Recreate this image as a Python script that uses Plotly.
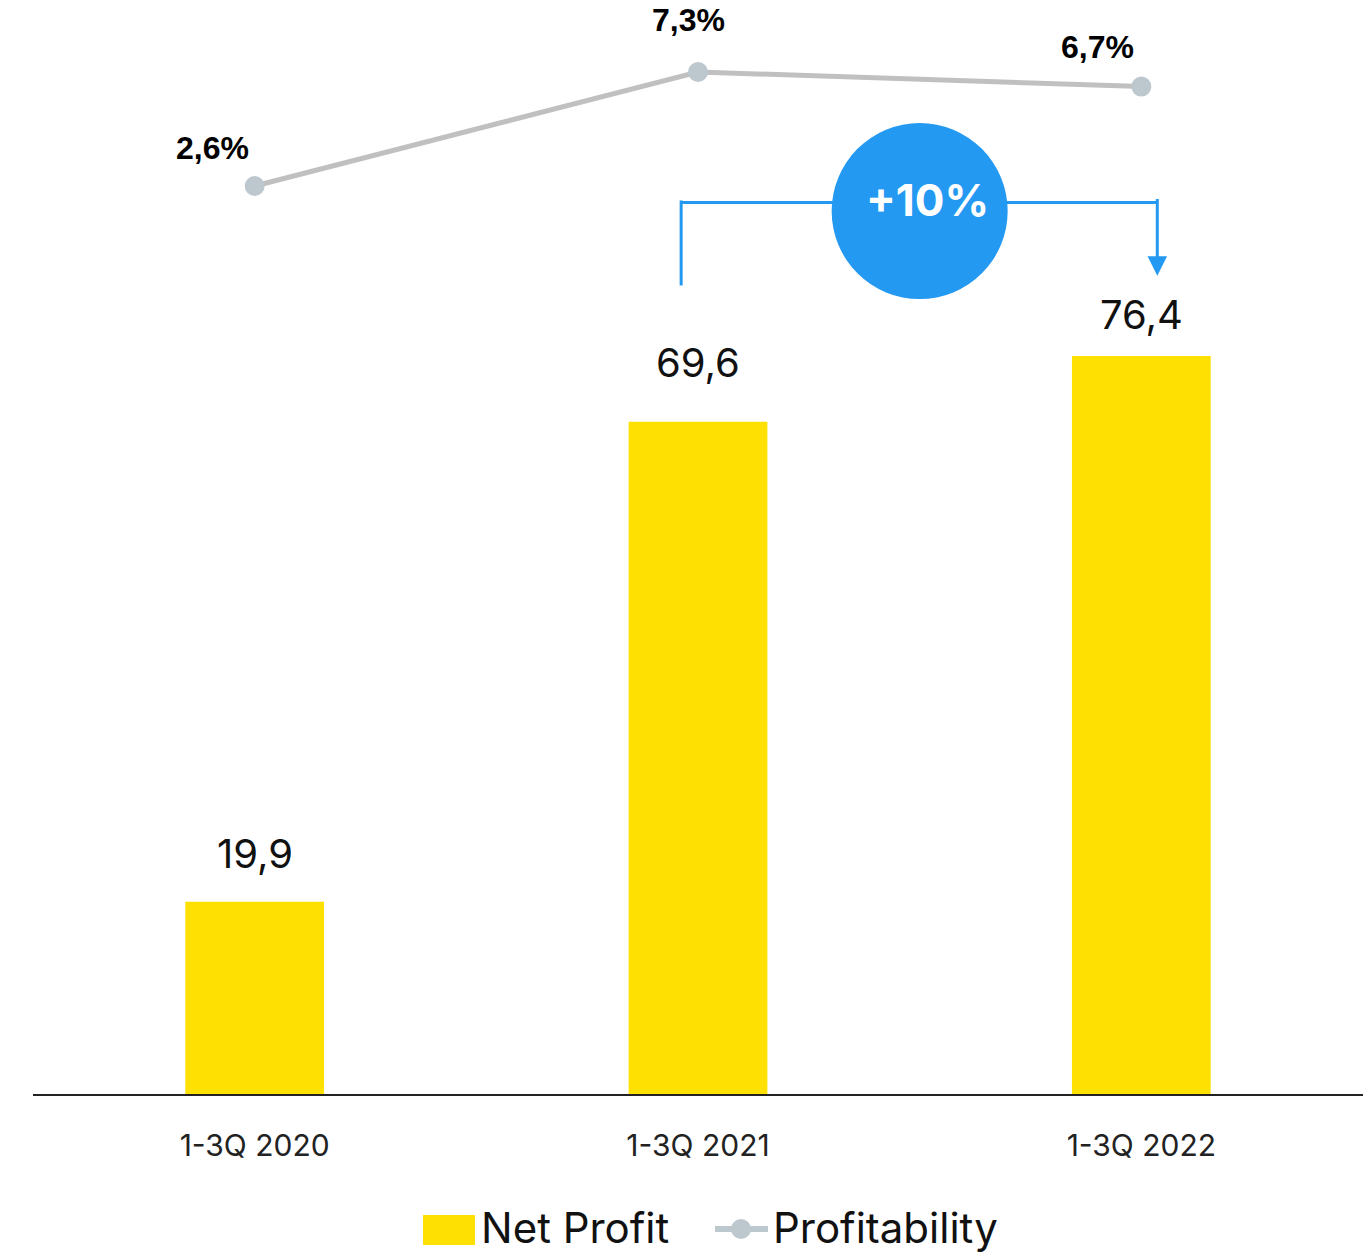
import plotly.graph_objects as go

categories = ["1-3Q 2020", "1-3Q 2021", "1-3Q 2022"]
net_profit = [19.9, 69.6, 76.4]
profitability = [2.6, 7.3, 6.7]
growth_label = "+10%"
series_names = ["Net Profit", "Profitability"]

def fmt(v):
    return f"{v:.1f}".replace(".", ",")

BAR_COLOR = "#FFE003"
LINE_COLOR = "#C0C0C0"
MARKER_COLOR = "#BCC8CE"
BLUE = "#2499F2"
SANS = "Inter, Lato, sans-serif"
BOLD = "Liberation Sans, Arial, sans-serif"

L, R, T, B = 33, 4, 0, 158
W, H = 1367, 1252
PW, PH = W - L - R, H - T - B

def px(x):
    return (x - L) / PW

def py(y):
    return (T + PH - y) / PH

fig = go.Figure()
fig.add_trace(go.Bar(
    x=categories, y=net_profit, name=series_names[0],
    marker=dict(color=BAR_COLOR, line=dict(width=0)),
    width=0.313, yaxis="y", showlegend=False,
))
fig.add_trace(go.Scatter(
    x=categories, y=profitability, name=series_names[1], mode="lines+markers",
    line=dict(color=LINE_COLOR, width=5),
    marker=dict(color=MARKER_COLOR, size=20),
    yaxis="y2", showlegend=False,
))

# bar value labels
bar_label_shift = [48, 59, 41]
for c, v, s in zip(categories, net_profit, bar_label_shift):
    fig.add_annotation(x=c, y=v, yref="y", text=fmt(v), showarrow=False,
                       yshift=s, font=dict(family=SANS, size=40, color="#111111"))

# profitability labels
offsets = [(-42, 38), (-10, 52), (-44, 40)]
for c, v, (dx, dy) in zip(categories, profitability, offsets):
    fig.add_annotation(x=c, y=v, yref="y2", text=f"<b>{fmt(v)}%</b>", showarrow=False,
                       xshift=dx, yshift=dy, font=dict(family=BOLD, size=32, color="#000000"))

# growth bracket
y_top = 92.3
fig.add_shape(type="line", x0=0.962, x1=0.962, y0=83.7, y1=92.5, xref="x", yref="y",
              line=dict(color=BLUE, width=3))
fig.add_shape(type="line", x0=0.962, x1=2.036, y0=y_top, y1=y_top, xref="x", yref="y",
              line=dict(color=BLUE, width=3))
fig.add_annotation(x=2.036, y=84.7, ax=2.036, ay=92.8, xref="x", yref="y", axref="x", ayref="y",
                   text="", showarrow=True, arrowhead=2, arrowsize=1.3, arrowwidth=3,
                   arrowcolor=BLUE)
fig.add_shape(type="circle", xref="x", yref="y",
              x0=1.5 - 88 / 443.3, x1=1.5 + 88 / 443.3,
              y0=91.4 - 88 / 9.66, y1=91.4 + 88 / 9.66,
              fillcolor=BLUE, line=dict(width=0))
fig.add_annotation(x=1.518, y=92.5, xref="x", yref="y", text=f"<b>{growth_label}</b>",
                   showarrow=False, font=dict(family=SANS, size=44, color="white"))

# custom legend (large swatches like the original)
fig.add_shape(type="rect", xref="paper", yref="paper",
              x0=px(423), x1=px(475), y0=py(1245), y1=py(1215),
              fillcolor=BAR_COLOR, line=dict(width=0))
fig.add_annotation(xref="paper", yref="paper", x=px(479), y=py(1227), xanchor="left",
                   yanchor="middle", text=series_names[0], showarrow=False,
                   font=dict(family=SANS, size=42, color="#111111"))
fig.add_shape(type="line", xref="paper", yref="paper",
              x0=px(715), x1=px(768), y0=py(1229), y1=py(1229),
              line=dict(color=MARKER_COLOR, width=6))
fig.add_shape(type="circle", xref="paper", yref="paper",
              x0=px(731), x1=px(751), y0=py(1239), y1=py(1219),
              fillcolor=MARKER_COLOR, line=dict(width=0))
fig.add_annotation(xref="paper", yref="paper", x=px(771), y=py(1227), xanchor="left",
                   yanchor="middle", text=series_names[1], showarrow=False,
                   font=dict(family=SANS, size=42, color="#111111"))

fig.update_layout(
    width=W, height=H,
    margin=dict(l=L, r=R, t=T, b=B, autoexpand=False),
    plot_bgcolor="white", paper_bgcolor="white",
    showlegend=False,
    xaxis=dict(type="category", showgrid=False, showline=True, linecolor="#222222",
               linewidth=2, ticks="", tickfont=dict(family=SANS, size=30, color="#222222"),
               range=[-0.5, 2.5], ticklabelstandoff=24),
    yaxis=dict(range=[0, PH / 9.66], visible=False, showgrid=False),
    yaxis2=dict(range=[7.3 - (PH - 72) / 24.26, 7.3 + 72 / 24.26], overlaying="y",
                visible=False, showgrid=False),
    bargap=0.5,
)

fig.write_html("out.html")
